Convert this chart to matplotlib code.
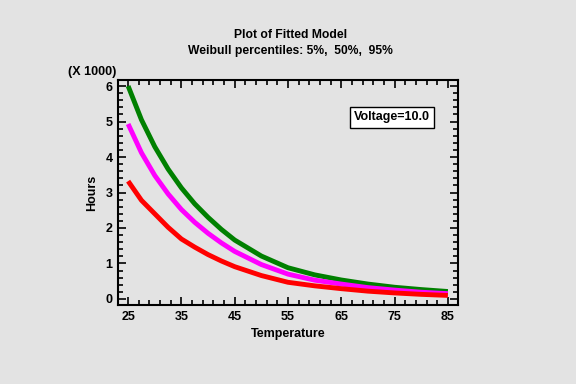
import matplotlib
matplotlib.use("Agg")
import matplotlib.pyplot as plt
from matplotlib.ticker import MultipleLocator, FixedLocator
import numpy as np

temperature = [25, 27.5, 30, 32.5, 35, 37.5, 40, 42.5, 45, 50, 55, 60, 65, 70, 75, 80, 85]
p95 = [6.0, 5.05, 4.29, 3.66, 3.13, 2.68, 2.30, 1.96, 1.66, 1.21, 0.88, 0.68, 0.535, 0.42, 0.33, 0.265, 0.21]
p50 = [4.93, 4.12, 3.48, 2.96, 2.52, 2.16, 1.85, 1.58, 1.34, 0.97, 0.70, 0.53, 0.42, 0.32, 0.25, 0.19, 0.15]
p05 = [3.32, 2.78, 2.40, 2.02, 1.69, 1.46, 1.25, 1.07, 0.91, 0.66, 0.47, 0.37, 0.29, 0.22, 0.17, 0.13, 0.10]
xticks = [25, 35, 45, 55, 65, 75, 85]
yticks = [0, 1, 2, 3, 4, 5, 6]

bg = "#e3e3e3"
plt.rcParams['font.family'] = ['Liberation Sans', 'DejaVu Sans']
plt.rcParams['font.weight'] = 'bold'

fig = plt.figure(figsize=(5.76, 3.84), dpi=100, facecolor=bg)
ax = fig.add_axes([118/576, 1-305/384, (458-118)/576, (305-80)/384])
ax.set_facecolor(bg)

ax.plot(temperature, p95, color="#008000", lw=3.5, solid_capstyle='butt')
ax.plot(temperature, p50, color="#ff00ff", lw=3.5, solid_capstyle='butt')
ax.plot(temperature, p05, color="#ff0000", lw=3.5, solid_capstyle='butt')

ax.set_xlim(23.1, 86.9)
ax.set_ylim(-0.17, 6.17)
ax.set_xticks(xticks)
ax.set_yticks(yticks)
ax.xaxis.set_minor_locator(FixedLocator(np.arange(23, 88, 2)))
ax.yaxis.set_minor_locator(MultipleLocator(0.2))
ax.tick_params(which='both', direction='in', top=True, right=True, width=1.2, color='black')
ax.tick_params(which='major', length=6, labelsize=9, pad=4)
ax.tick_params(which='minor', length=3.5)
for lab in ax.get_xticklabels() + ax.get_yticklabels():
    lab.set_fontweight('bold')
for s in ax.spines.values():
    s.set_linewidth(1.5)

ax.set_xlabel("Temperature", fontsize=9, fontweight='bold', labelpad=4)
ax.set_ylabel("Hours", fontsize=9, fontweight='bold', labelpad=5)
fig.text(68/576, 1-72/384, "(X 1000)", fontsize=9, fontweight='bold', ha='left', va='center')

fig.text(0.505, 1-35/384, "Plot of Fitted Model", fontsize=8.7, fontweight='bold', ha='center', va='center')
fig.text(0.505, 1-51/384, "Weibull percentiles: 5%,  50%,  95%", fontsize=8.7, fontweight='bold', ha='center', va='center')

ax.text(0.806, 0.835, "Voltage=10.0", transform=ax.transAxes, fontsize=9, fontweight='bold',
        ha='center', va='center',
        bbox=dict(boxstyle='square,pad=0.35', facecolor='white', edgecolor='black', linewidth=1.0))

fig.savefig("out.png", dpi=100, facecolor=bg)
